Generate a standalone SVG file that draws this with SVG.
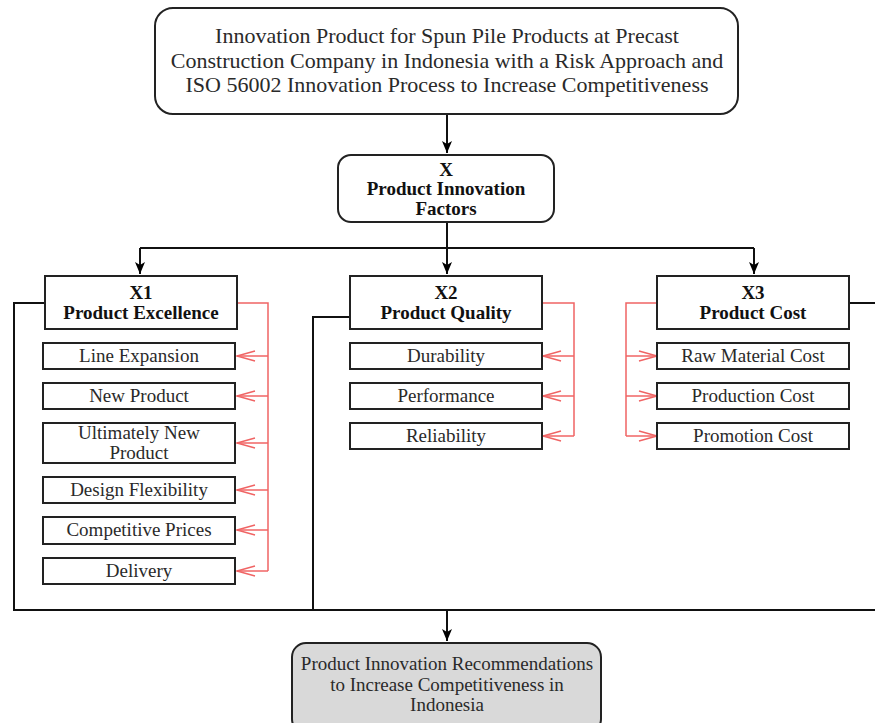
<svg xmlns="http://www.w3.org/2000/svg" width="875" height="723" viewBox="0 0 875 723">
<defs>
<marker id="ab" viewBox="0 0 12 12" refX="12" refY="6" markerWidth="12" markerHeight="12" markerUnits="userSpaceOnUse" orient="auto">
<path d="M0,1 L12,6 L0,11 L3,6 Z" fill="#000"/>
</marker>
<marker id="ar" viewBox="0 0 20 12" refX="19" refY="6" markerWidth="20" markerHeight="12" markerUnits="userSpaceOnUse" orient="auto">
<path d="M1,1 L19,6 L1,11" fill="none" stroke="#f06464" stroke-width="1.5"/>
</marker>
<style>
.box{fill:#fff;stroke:#222;stroke-width:2}
.gbox{fill:#d9d9d9;stroke:#222;stroke-width:2}
text{font-family:'Liberation Serif','DejaVu Serif',serif;fill:#2a2a2a;text-anchor:middle;font-size:19px}
.b{font-weight:bold;fill:#111}
.k{fill:none;stroke:#111;stroke-width:2}
.r{fill:none;stroke:#f06464;stroke-width:1.5}
</style>
</defs>
<g id="connectors">
<path class="k" d="M447,114 V153" marker-end="url(#ab)"/>
<path class="k" d="M447,222 V248 M140,248 H754"/>
<path class="k" d="M140,248 V274" marker-end="url(#ab)"/>
<path class="k" d="M447,248 V274" marker-end="url(#ab)"/>
<path class="k" d="M754,248 V274" marker-end="url(#ab)"/>
<path class="k" d="M45,303 H14 V610 H875"/>
<path class="k" d="M350,317 H313 V610"/>
<path class="k" d="M849,303 H876 V610"/>
<path class="k" d="M447,610 V641" marker-end="url(#ab)"/>
<path class="r" d="M237,303 H268 V571"/>
<path class="r" d="M268,356 H237" marker-end="url(#ar)"/>
<path class="r" d="M268,396 H237" marker-end="url(#ar)"/>
<path class="r" d="M268,443 H237" marker-end="url(#ar)"/>
<path class="r" d="M268,490 H237" marker-end="url(#ar)"/>
<path class="r" d="M268,530 H237" marker-end="url(#ar)"/>
<path class="r" d="M268,571 H237" marker-end="url(#ar)"/>
<path class="r" d="M542,303 H574 V436"/>
<path class="r" d="M574,356 H543" marker-end="url(#ar)"/>
<path class="r" d="M574,396 H543" marker-end="url(#ar)"/>
<path class="r" d="M574,436 H543" marker-end="url(#ar)"/>
<path class="r" d="M657,303 H626 V436"/>
<path class="r" d="M626,356 H657" marker-end="url(#ar)"/>
<path class="r" d="M626,396 H657" marker-end="url(#ar)"/>
<path class="r" d="M626,436 H657" marker-end="url(#ar)"/>
</g>
<g id="top">
<rect class="box" x="155" y="8" width="583" height="106" rx="18"/>
<text style="font-size:22px"><tspan x="447" y="43">Innovation Product for Spun Pile Products at Precast</tspan><tspan x="447" y="67.5">Construction Company in Indonesia with a Risk Approach and</tspan><tspan x="447" y="92">ISO 56002 Innovation Process to Increase Competitiveness</tspan></text>
</g>
<g id="x">
<rect class="box" x="338" y="155" width="216" height="67" rx="13"/>
<text class="b"><tspan x="446" y="176">X</tspan><tspan x="446" y="195">Product Innovation</tspan><tspan x="446" y="215">Factors</tspan></text>
</g>
<g id="x1">
<rect class="box" x="45" y="276" width="192" height="53"/>
<text class="b"><tspan x="141" y="299">X1</tspan><tspan x="141" y="319">Product Excellence</tspan></text>
</g>
<g id="x2">
<rect class="box" x="350" y="276" width="192" height="53"/>
<text class="b"><tspan x="446" y="299">X2</tspan><tspan x="446" y="319">Product Quality</tspan></text>
</g>
<g id="x3">
<rect class="box" x="657" y="276" width="192" height="53"/>
<text class="b"><tspan x="753" y="299">X3</tspan><tspan x="753" y="319">Product Cost</tspan></text>
</g>
<g id="x1a"><rect class="box" x="43" y="343" width="192" height="26"/><text x="139" y="362">Line Expansion</text></g>
<g id="x1b"><rect class="box" x="43" y="383" width="192" height="26"/><text x="139" y="402">New Product</text></g>
<g id="x1c"><rect class="box" x="43" y="423" width="192" height="40"/><text><tspan x="139" y="439">Ultimately New</tspan><tspan x="139" y="459">Product</tspan></text></g>
<g id="x1d"><rect class="box" x="43" y="477" width="192" height="26"/><text x="139" y="496">Design Flexibility</text></g>
<g id="x1e"><rect class="box" x="43" y="517" width="192" height="27"/><text x="139" y="536">Competitive Prices</text></g>
<g id="x1f"><rect class="box" x="43" y="558" width="192" height="26"/><text x="139" y="577">Delivery</text></g>
<g id="x2a"><rect class="box" x="350" y="343" width="192" height="26"/><text x="446" y="362">Durability</text></g>
<g id="x2b"><rect class="box" x="350" y="383" width="192" height="26"/><text x="446" y="402">Performance</text></g>
<g id="x2c"><rect class="box" x="350" y="423" width="192" height="26"/><text x="446" y="442">Reliability</text></g>
<g id="x3a"><rect class="box" x="657" y="343" width="192" height="26"/><text x="753" y="362">Raw Material Cost</text></g>
<g id="x3b"><rect class="box" x="657" y="383" width="192" height="26"/><text x="753" y="402">Production Cost</text></g>
<g id="x3c"><rect class="box" x="657" y="423" width="192" height="26"/><text x="753" y="442">Promotion Cost</text></g>
<g id="result">
<rect class="gbox" x="292" y="643" width="309" height="90" rx="14"/>
<text><tspan x="447" y="670">Product Innovation Recommendations</tspan><tspan x="447" y="691">to Increase Competitiveness in</tspan><tspan x="447" y="711">Indonesia</tspan></text>
</g>
</svg>
